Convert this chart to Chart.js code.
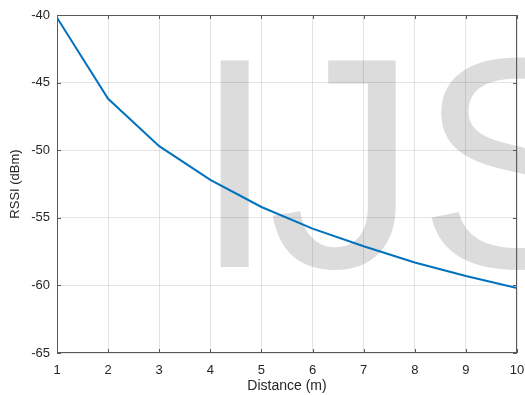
<!DOCTYPE html>
<html>
<head>
<meta charset="utf-8">
<script src="https://cdn.jsdelivr.net/npm/chart.js@4/dist/chart.umd.min.js"></script>
<style>
    html, body { margin: 0; padding: 0; background: #fff; }
    #wrap { width: 525px; height: 395px; }
</style>
</head>
<body>
<div id="wrap"><canvas id="chart" width="525" height="395"></canvas></div>
<script>
// distance in metres, rssi
const distance = [1, 2, 3, 4, 5, 6, 7, 8, 9, 10];
const rssi = [-40.2, -46.2, -49.7, -52.2, -54.2, -55.8, -57.1, -58.3, -59.3, -60.2];
const xTicks = [1, 2, 3, 4, 5, 6, 7, 8, 9, 10];
const yTicks = [-65, -60, -55, -50, -45, -40];

const fontFamily = "'Liberation Sans', Arial, Helvetica, sans-serif";
const axisColor = '#5a5a5a';

// big light-grey watermark behind the plot
const watermark = {
    id: 'watermark',
    beforeDraw(chart) {
        const ctx = chart.ctx;
        ctx.save();
        ctx.fillStyle = '#dcdcdc';
        ctx.font = '300px ' + fontFamily;
        ctx.textBaseline = 'alphabetic';
        ctx.fillText('I', 193, 267);
        ctx.fillText('J', 268, 267);
        ctx.fillText('S', 418, 267);
        ctx.restore();
    }
};

// matlab style box with inward ticks
const box = {
    id: 'box',
    afterDatasetsDraw(chart) {
        const {ctx, chartArea: a, scales: {x, y}} = chart;
        ctx.save();
        ctx.strokeStyle = axisColor;
        ctx.lineWidth = 1;
        ctx.strokeRect(a.left + 0.5, a.top + 0.5, a.right - a.left - 1, a.bottom - a.top - 1);
        ctx.beginPath();
        xTicks.forEach(v => {
            const px = Math.round(x.getPixelForValue(v)) + 0.5;
            ctx.moveTo(px, a.bottom);
            ctx.lineTo(px, a.bottom - 4);
            ctx.moveTo(px, a.top);
            ctx.lineTo(px, a.top + 4);
        });
        yTicks.forEach(v => {
            const py = Math.round(y.getPixelForValue(v)) + 0.5;
            ctx.moveTo(a.left, py);
            ctx.lineTo(a.left + 4, py);
            ctx.moveTo(a.right, py);
            ctx.lineTo(a.right - 4, py);
        });
        ctx.stroke();
        ctx.restore();
    }
};

new Chart(document.getElementById('chart'), {
    type: 'line',
    data: {
        datasets: [{
            data: distance.map((d, i) => ({x: d, y: rssi[i]})),
            borderColor: '#0072BD',
            borderWidth: 2,
            pointRadius: 0,
            tension: 0,
            fill: false
        }]
    },
    options: {
        responsive: false,
        animation: false,
        layout: {padding: {top: 15, right: 8, left: 0, bottom: 0}},
        plugins: {legend: {display: false}, tooltip: {enabled: false}},
        scales: {
            x: {
                type: 'linear',
                min: 1,
                max: 10,
                afterFit: s => { s.height = 42; s.paddingRight = 0; s.paddingLeft = 0; },
                afterBuildTicks: s => { s.ticks = xTicks.map(v => ({value: v})); },
                border: {display: false},
                grid: {color: 'rgba(0,0,0,0.1)', drawTicks: false},
                ticks: {color: '#262626', padding: 10, font: {family: fontFamily, size: 13}, maxRotation: 0},
                title: {
                    display: true,
                    text: 'Distance (m)',
                    color: '#262626',
                    font: {family: fontFamily, size: 14},
                    padding: {top: 0, bottom: 0}
                }
            },
            y: {
                min: -65,
                max: -40,
                afterFit: s => { s.width = 57; },
                afterBuildTicks: s => { s.ticks = yTicks.map(v => ({value: v})); },
                border: {display: false},
                grid: {color: 'rgba(0,0,0,0.1)', drawTicks: false},
                ticks: {color: '#262626', padding: 7, font: {family: fontFamily, size: 13}},
                title: {
                    display: true,
                    text: 'RSSI (dBm)',
                    color: '#262626',
                    font: {family: fontFamily, size: 13},
                    padding: {top: 8, bottom: 0}
                }
            }
        }
    },
    plugins: [watermark, box]
});
</script>
</body>
</html>
